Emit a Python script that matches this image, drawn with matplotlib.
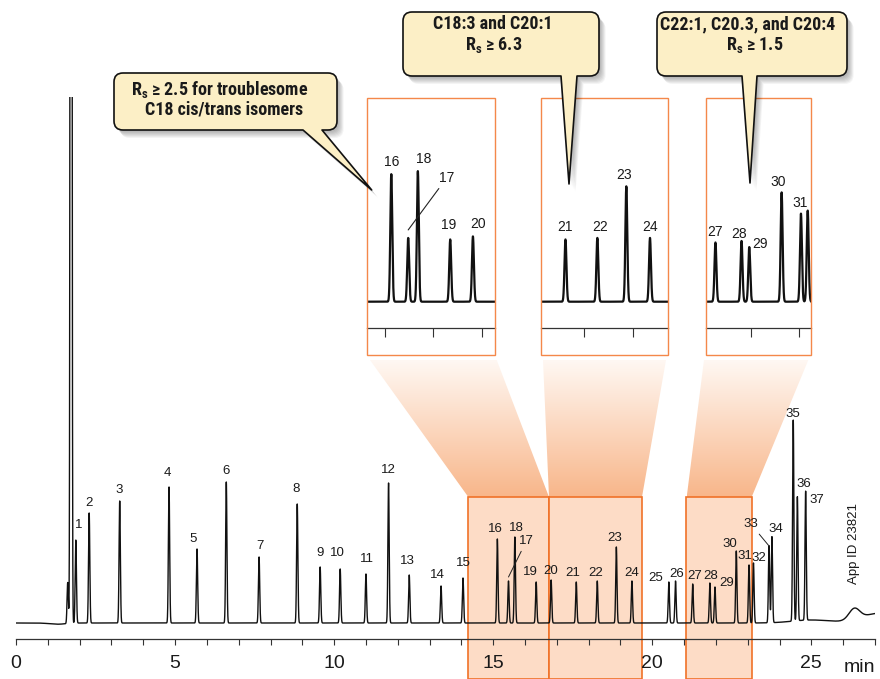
import numpy as np
import matplotlib
matplotlib.use("Agg")
import matplotlib.pyplot as plt
from matplotlib import font_manager as fm
from matplotlib.patches import Rectangle, PathPatch, Polygon
from matplotlib.path import Path
from matplotlib.colors import LinearSegmentedColormap

plt.rcParams['font.family'] = ['Liberation Sans', 'DejaVu Sans']

# ---------------- data ----------------
peak_labels = [str(i) for i in range(1, 38)]
peak_rt = [1.88, 2.30, 3.26, 4.81, 5.69, 6.61, 7.64, 8.84, 9.56, 10.19,
           11.00, 11.71, 12.36, 13.36, 14.05, 15.13, 15.48, 15.68, 16.35, 16.82,
           17.61, 18.27, 18.87, 19.36, 20.52, 20.73, 21.27, 21.81, 21.97, 22.64,
           23.04, 23.18, 23.67, 23.76, 24.43, 24.56, 24.82]
peak_height = [83, 110, 122, 136, 74, 141, 66, 119, 56, 54,
               49, 140, 48, 37, 45, 84, 42, 86, 41, 43,
               41, 42, 76, 42, 41, 42, 39, 40, 36, 72,
               58, 60, 77, 86, 201, 124, 129]
minor_rt = [1.625, 1.73]          # unlabeled pre-peak and solvent peak
minor_height = [41, 3000]
baseline_rt = [1.3, 25.0, 26.35, 27.2]
baseline_height = [-1.2, 3.0, 11.0, 10.0]
baseline_width = [0.25, 0.6, 0.17, 0.6]

zoom_ranges = [(14.22, 16.76), (16.76, 19.69), (21.06, 23.12)]
inset_ranges = [(14.621, 17.277), (17.097, 19.739), (21.068, 23.248)]
inset_ticks = [[15, 16, 17], [18, 19], [22, 23]]
inset_peaks = [["16", "17", "18", "19", "20"], ["21", "22", "23", "24"],
               ["27", "28", "29", "30", "31"]]
main_ticks = list(range(0, 28))
main_ticklabels = [str(v) if v % 5 == 0 else "" for v in main_ticks]

callout_lines = [
    ["R$_\\mathregular{s}$ ≥ 2.5 for troublesome", "C18 cis/trans isomers"],
    ["C18:3 and C20:1", "R$_\\mathregular{s}$ ≥ 6.3"],
    ["C22:1, C20.3, and C20:4", "R$_\\mathregular{s}$ ≥ 1.5"],
]
app_id = "App ID 23821"

# ---------------- layout / style (pixels) ----------------
W, H = 880, 679
PEAK_SIGMA = 0.02
label_dx = [2.7, 0, -0.7, -1.3, -3.7, -0.6, 0.7, -0.7, 0, -2.7, 1, 0, -1.7, -4, 0, -2, 17.7,
            1.3, -5.5, 0, -3.3, -1.7, -1.3, 0, -12.7, 1.4, 2.4, 1, 11.3, -6, -4.4, 5.7, -18,
            3.6, 0, 6.3, 11.4]
label_dy = [15, 9.7, 11, 13.7, 10.3, 11.3, 11, 15.3, 14, 15.7, 14.7, 13, 13.7, 11.3, 15, 10,
            35.7, 8.7, 9.7, 9.3, 8.7, 7.7, 9.3, 7.7, 4.4, 7, 7.6, 6.7, 4, 7.4, 9, 4.7, 21.7,
            7.7, 7.6, 15.3, -5.7]
leader_main = {"17": 4.0, "33": 0.0}
inset_off = {"16": (0, 12.6), "17": (38.7, 52.3), "18": (6.3, 11.7), "19": (-1.7, 14),
             "20": (5.3, 12.7), "21": (0, 12.7), "22": (2.3, 11), "23": (-2.3, 11.3),
             "24": (0.3, 11), "27": (0, 10), "28": (-2.7, 7.4), "29": (10.6, 2.7),
             "30": (-3.6, 10), "31": (-1.3, 10.7)}
leader_inset = {"17": 8.0}
INSET_PX = [(366.7, 495.0), (540.7, 668.3), (705.7, 811.0)]
INSET_TOP, INSET_AXIS, INSET_BOTTOM = 98.3, 327.7, 355.0
INSET_SCALE = 48.3 / 31.815
FUNNELS = [(370, 496.7, 468.3, 549), (543, 666, 549, 642), (704, 808.3, 686.7, 751.7)]
FUN_TOP, FUN_BOT = 360, 497
CALLOUTS = [((114, 73, 337, 130), (303, 322), (371.7, 190), (220, 224), (95, 115)),
            ((403, 12, 599, 76), (561, 577), (569, 184), (493, 494), (29.3, 50)),
            ((657, 12, 847, 76), (742, 757), (750, 183), (747.5, 755), (29.3, 50))]
CALLOUT_WIDTHS = [[177, 158], [116.7, 62.3], [175, 63.7]]

ORANGE_EDGE = '#F07228'
ORANGE_FILL = '#FDDCC6'
INSET_EDGE = '#F4884A'
TXT = '#1a1a1a'


def px_rect(l, t, r, b):
    return [l / W, 1 - b / H, (r - l) / W, (b - t) / H]


def pick_condensed_bold():
    prefs = ['Liberation Sans Narrow', 'Roboto Condensed', 'Roboto', 'Open Sans Condensed',
             'Open Sans', 'Noto Sans', 'DejaVu Sans', 'Lato', 'Inter']
    best = None
    for f in fm.fontManager.ttflist:
        w = f.weight if isinstance(f.weight, (int, float)) else fm.weight_dict.get(f.weight, 400)
        narrow = ('Narrow' in f.name) or ('Condensed' in f.name) or \
                 (str(f.stretch) in ('condensed', 'semi-condensed', 'extra-condensed'))
        if not narrow or f.style != 'normal' or w < 600:
            continue
        if f.name not in prefs:
            continue
        score = prefs.index(f.name) * 10 + abs(w - 700) / 100
        if best is None or score < best[0]:
            best = (score, f.fname)
    if best is not None:
        return fm.FontProperties(fname=best[1])
    return fm.FontProperties(family=['Liberation Sans', 'DejaVu Sans'], weight='bold')


t = np.linspace(0, 27, 27001)
signal = np.zeros_like(t)
for rt, h in zip(peak_rt + minor_rt, peak_height + minor_height):
    signal += h * np.exp(-0.5 * ((t - rt) / PEAK_SIGMA) ** 2)
for c, h, w in zip(baseline_rt, baseline_height, baseline_width):
    signal += h * np.exp(-0.5 * ((t - c) / w) ** 2)

fig = plt.figure(figsize=(W / 100, H / 100), dpi=100)

# ---------- background: gradient funnels ----------
bg = fig.add_axes([0, 0, 1, 1], zorder=0)
bg.axis('off')
cmap = LinearSegmentedColormap.from_list('fun', ['#FFF8F3', '#F8B68A'])
grad = np.linspace(0, 1, 256).reshape(-1, 1)
for tl, tr, bl, br in FUNNELS:
    poly = Polygon([(tl, FUN_TOP), (tr, FUN_TOP), (br, FUN_BOT), (bl, FUN_BOT)],
                   closed=True, fc='none', ec='none')
    bg.add_patch(poly)
    im = bg.imshow(grad, cmap=cmap, extent=(min(tl, bl), max(tr, br), FUN_BOT, FUN_TOP),
                   aspect='auto', interpolation='bilinear')
    im.set_clip_path(poly)
bg.set_xlim(0, W)
bg.set_ylim(H, 0)

# ---------- main chromatogram ----------
ax = fig.add_axes(px_rect(16, 97, 875, 639), zorder=1)
ax.patch.set_alpha(0)
ax.plot(t, signal, color='#111111', lw=1.0, zorder=3)
ax.set_xlim(0, 27)
ax.set_ylim(-16, 526)
for s in ['top', 'right', 'left']:
    ax.spines[s].set_visible(False)
ax.spines['bottom'].set_color('#333333')
ax.spines['bottom'].set_linewidth(0.9)
ax.set_yticks([])
ax.set_xticks(main_ticks)
ax.set_xticklabels(main_ticklabels)
ax.tick_params(axis='x', direction='out', length=4.5, width=0.8, pad=7,
               labelsize=14, colors='#333333', labelcolor=TXT)

for x0, x1 in zoom_ranges:
    ax.add_patch(Rectangle((x0, -56), x1 - x0, 182, fc=ORANGE_FILL, ec=ORANGE_EDGE,
                           lw=1.2, clip_on=False, zorder=0.5))

for lab, rt, h, dx, dy in zip(peak_labels, peak_rt, peak_height, label_dx, label_dy):
    if lab in leader_main:
        ax.annotate(lab, xy=(rt, h + leader_main[lab]), xytext=(dx * 0.72, dy * 0.72),
                    textcoords='offset points', ha='center', va='center', fontsize=9.5,
                    color=TXT, arrowprops=dict(arrowstyle='-', lw=0.7, color='#222222',
                                               shrinkA=1, shrinkB=0))
    else:
        ax.annotate(lab, xy=(rt, h), xytext=(dx * 0.72, dy * 0.72),
                    textcoords='offset points', ha='center', va='center', fontsize=9.5,
                    color=TXT)

fig.text(875 / W, 1 - 672 / H, "min", ha='right', va='baseline', fontsize=14, color=TXT)
fig.text(854.3 / W, 1 - 543.3 / H, app_id, rotation=90, ha='center', va='center',
         fontsize=9.5, color=TXT)

# ---------- insets ----------
rt_of = dict(zip(peak_labels, peak_rt))
h_of = dict(zip(peak_labels, peak_height))
for k, (l, r) in enumerate(INSET_PX):
    iax = fig.add_axes(px_rect(l, INSET_TOP, r, INSET_AXIS), zorder=3)
    iax.set_facecolor('white')
    iax.plot(t, signal, color='#111111', lw=1.6)
    iax.set_xlim(*inset_ranges[k])
    iax.set_ylim(-26 / INSET_SCALE, (301.7 - INSET_TOP) / INSET_SCALE)
    for s in ['top', 'right', 'left']:
        iax.spines[s].set_visible(False)
    iax.spines['bottom'].set_color('#333333')
    iax.spines['bottom'].set_linewidth(0.9)
    iax.set_yticks([])
    iax.set_xticks(inset_ticks[k])
    iax.set_xticklabels([])
    iax.tick_params(axis='x', direction='out', length=6.5, width=0.8, colors='#333333')
    for lab in inset_peaks[k]:
        dx, dy = inset_off[lab]
        kw = dict(textcoords='offset points', ha='center', va='center', fontsize=10,
                  color=TXT, annotation_clip=False)
        if lab in leader_inset:
            iax.annotate(lab, xy=(rt_of[lab], h_of[lab] + leader_inset[lab] / INSET_SCALE),
                         xytext=(dx * 0.72, dy * 0.72),
                         arrowprops=dict(arrowstyle='-', lw=0.8, color='#222222',
                                         shrinkA=1, shrinkB=0), **kw)
        else:
            iax.annotate(lab, xy=(rt_of[lab], h_of[lab]), xytext=(dx * 0.72, dy * 0.72), **kw)

# ---------- foreground: inset frames and callouts ----------
fg = fig.add_axes([0, 0, 1, 1], zorder=5)
fg.patch.set_alpha(0)
fg.axis('off')
fg.set_xlim(0, W)
fg.set_ylim(H, 0)
for l, r in INSET_PX:
    fg.add_patch(Rectangle((l, INSET_TOP), r - l, INSET_BOTTOM - INSET_TOP, fc='none',
                           ec=INSET_EDGE, lw=1.0))


def callout_path(box, base, tip, r=9, off=(0, 0)):
    x0, y0, x1, y1 = box
    b0, b1 = base
    M, L, C, CL = Path.MOVETO, Path.LINETO, Path.CURVE3, Path.CLOSEPOLY
    verts = [(x0 + r, y0), (x1 - r, y0), (x1, y0), (x1, y0 + r), (x1, y1 - r), (x1, y1),
             (x1 - r, y1), (b1, y1), tip, (b0, y1), (x0 + r, y1), (x0, y1), (x0, y1 - r),
             (x0, y0 + r), (x0, y0), (x0 + r, y0), (x0 + r, y0)]
    codes = [M, L, C, C, L, C, C, L, L, L, L, C, C, L, C, C, CL]
    verts = [(vx + off[0], vy + off[1]) for vx, vy in verts]
    return Path(verts, codes)


cfont = pick_condensed_bold()
base_size = 12.6
callout_texts = []
for (box, base, tip, xs, ys), lines in zip(CALLOUTS, callout_lines):
    for k in range(1, 8):
        fg.add_patch(PathPatch(callout_path(box, base, tip, off=(k * 0.8 + 1, k * 1.0 + 1)),
                               fc='black', ec='none', alpha=0.045))
    fg.add_patch(PathPatch(callout_path(box, base, tip), fc='#FCEFC6', ec='#111111',
                           lw=1.2, joinstyle='round'))
    for txt, x, y in zip(lines, xs, ys):
        tobj = fg.text(x, y, txt, ha='center', va='baseline', fontproperties=cfont,
                       fontsize=base_size, color=TXT)
        callout_texts.append(tobj)

# fit callout font size so the text widths match the reference boxes
fig.canvas.draw()
renderer = fig.canvas.get_renderer()
targets = [w for pair in CALLOUT_WIDTHS for w in pair]
ratios = [tw / max(tobj.get_window_extent(renderer).width, 1)
          for tobj, tw in zip(callout_texts, targets)]
new_size = base_size * float(np.median(ratios))
new_size = min(max(new_size, 9.5), 14.5)
for tobj in callout_texts:
    tobj.set_fontsize(new_size)

fig.savefig("out.png", dpi=100, facecolor='white')
